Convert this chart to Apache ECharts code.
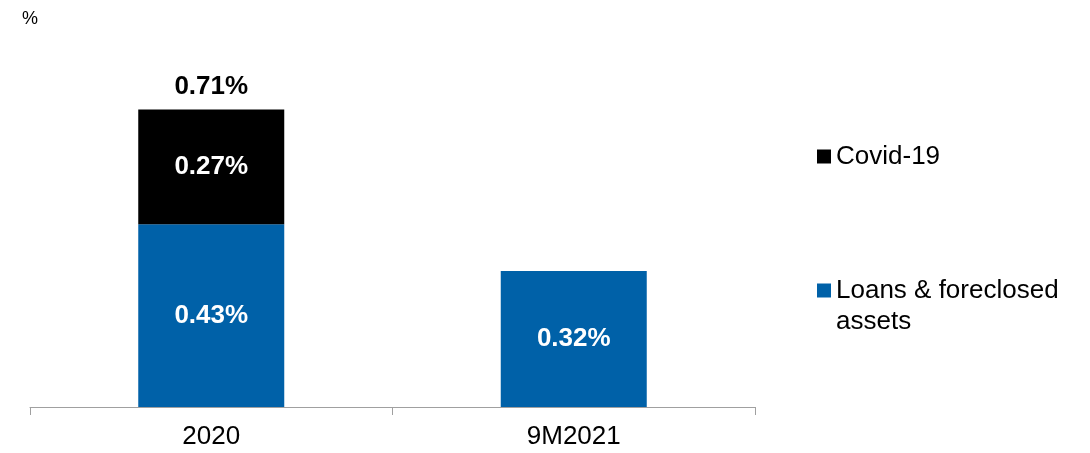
<!DOCTYPE html>
<html>
<head>
<meta charset="utf-8">
<script src="https://cdn.jsdelivr.net/npm/echarts@6/dist/echarts.min.js"></script>
<style>
  html, body { margin: 0; padding: 0; background: #fff; }
  #chart { width: 1090px; height: 453px; }
</style>
</head>
<body>
<div id="chart"></div>
<script>
var categories = ['2020', '9M2021'];
var loansValues = [0.43, 0.32];
var covidValues = [0.27, '-'];
var totalLabels = [0.71, null];

var FONT = '"Liberation Sans", Arial, sans-serif';

var chart = echarts.init(document.getElementById('chart'));
var option = {
    animation: false,
    textStyle: { fontFamily: FONT },
    grid: {
        left: 30,
        right: 335,
        top: 24.5,
        bottom: 46
    },
    graphic: [
        {
            type: 'text',
            left: 22,
            top: 10,
            style: { text: '%', fontSize: 18, fill: '#000', fontFamily: FONT }
        }
    ],
    legend: [
        {
            data: ['Covid-19'],
            orient: 'vertical',
            left: 812,
            top: 136,
            icon: 'rect',
            itemWidth: 14,
            itemHeight: 14,
            textStyle: { fontSize: 26, color: '#000', lineHeight: 31, fontFamily: FONT }
        },
        {
            data: ['Loans & foreclosed assets'],
            orient: 'vertical',
            left: 812,
            top: 239,
            icon: 'rect',
            itemWidth: 14,
            itemHeight: 14,
            formatter: function (name) {
                // blank first line keeps the icon level with the first text line
                return '\n' + name.replace(' assets', '\nassets');
            },
            textStyle: { fontSize: 26, color: '#000', lineHeight: 31, fontFamily: FONT }
        }
    ],
    xAxis: {
        type: 'category',
        data: categories,
        axisLine: { lineStyle: { color: '#a0a0a0', width: 1 } },
        axisTick: { show: true, length: 8, lineStyle: { color: '#a0a0a0' } },
        axisLabel: { fontSize: 26, color: '#000', margin: 17, fontFamily: FONT }
    },
    yAxis: {
        type: 'value',
        min: 0,
        max: 0.9,
        show: false,
        splitLine: { show: false }
    },
    series: [
        {
            name: 'Loans & foreclosed assets',
            type: 'bar',
            stack: 'npl',
            barWidth: 146,
            data: loansValues,
            itemStyle: { color: '#0061a8' },
            label: {
                show: true,
                position: 'inside',
                color: '#fff',
                fontWeight: 'bold',
                fontSize: 26,
                fontFamily: FONT,
                formatter: function (p) { return p.value.toFixed(2) + '%'; }
            }
        },
        {
            name: 'Covid-19',
            type: 'bar',
            stack: 'npl',
            barWidth: 146,
            data: covidValues,
            itemStyle: { color: '#000' },
            label: {
                show: true,
                position: 'inside',
                color: '#fff',
                fontWeight: 'bold',
                fontSize: 26,
                fontFamily: FONT,
                formatter: function (p) { return p.value.toFixed(2) + '%'; }
            }
        },
        {
            name: 'total',
            type: 'bar',
            stack: 'npl',
            barWidth: 146,
            data: totalLabels.map(function (t) { return t == null ? '-' : 0; }),
            itemStyle: { color: 'transparent' },
            label: {
                show: true,
                position: 'top',
                distance: 10,
                color: '#000',
                fontWeight: 'bold',
                fontSize: 26,
                fontFamily: FONT,
                formatter: function (p) {
                    var t = totalLabels[p.dataIndex];
                    return t == null ? '' : t.toFixed(2) + '%';
                }
            }
        }
    ]
};
chart.setOption(option);
</script>
</body>
</html>
